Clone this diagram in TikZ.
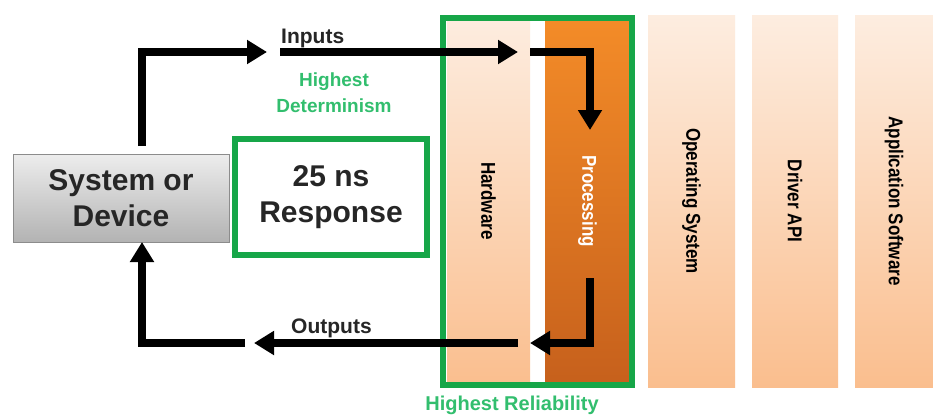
\documentclass[tikz,border=0pt]{standalone}
\usepackage{fontspec}
\setmainfont{Liberation Sans}
\usetikzlibrary{arrows.meta}
\definecolor{frameG}{RGB}{22,166,72}
\definecolor{textG}{RGB}{50,190,110}
\definecolor{peachT}{RGB}{253,237,224}
\definecolor{peachB}{RGB}{250,190,142}
\definecolor{orT}{RGB}{244,140,40}
\definecolor{orB}{RGB}{198,96,28}
\newcommand{\vlab}[1]{\rotatebox{-90}{\scalebox{0.85}[1]{\fontsize{20}{24}\selectfont\bfseries #1}}}
\begin{document}
\begin{tikzpicture}[x=1pt,y=-1pt,
  col/.style={rectangle, inner sep=0pt, top color=peachT, bottom color=peachB, draw=none},
  pcol/.style={rectangle, inner sep=0pt, top color=orT, bottom color=orB, draw=none, text=white},
  conn/.style={line width=7.5pt, -{Triangle[length=20pt,width=23pt]}},
  big/.style={font=\fontsize{30}{36}\selectfont\bfseries, align=center, text=black!85},
  lbl/.style={font=\fontsize{21}{24}\selectfont\bfseries, text=black!85},
  glbl/.style={font=\fontsize{19}{26}\selectfont\bfseries, text=textG, align=center}]
\useasboundingbox (0,0) rectangle (933,415);
\fill[white] (0,0) rectangle (933,415);
% columns
\node[col, minimum width=83, minimum height=372] (hw) at (488.5,201) {\vlab{Hardware}};
\node[pcol, minimum width=85, minimum height=372] (proc) at (587.5,201) {\vlab{Processing}};
\node[col, minimum width=87, minimum height=372] (os) at (691.5,201) {\vlab{Operating System}};
\node[col, minimum width=86, minimum height=372] (drv) at (795,201) {\vlab{Driver API}};
\node[col, minimum width=78, minimum height=372] (app) at (894,201) {\vlab{Application Software}};
% reliability frame
\node[rectangle, draw=frameG, line width=6.5pt, minimum width=189, minimum height=367, inner sep=0pt] (rel) at (537.5,201.5) {};
\node[glbl, font=\fontsize{20}{24}\selectfont\bfseries, anchor=base] (reltxt) at (512,410) {Highest Reliability};
% system box
\node[rectangle, top color=black!7, bottom color=black!30, draw=black!45, line width=1pt,
      minimum width=216, minimum height=88, inner sep=0pt, big] (sys) at (121,198) {System or\\Device};
% response box
\node[rectangle, fill=white, draw=frameG, line width=6.5pt, minimum width=192, minimum height=116,
      inner sep=0pt, big] (resp) at (331,197) {25 ns\\Response};
% labels
\node[lbl, anchor=base west, inner sep=0pt] (inl) at (281,43) {Inputs};
\node[lbl, anchor=base west, inner sep=0pt] (outl) at (291,333) {Outputs};
\node[glbl, anchor=base, inner sep=0pt] (det) at (334,112) {Highest\\Determinism};
% connector coordinates
\coordinate (a0) at (142,146);
\coordinate (a1) at (267,52);
\coordinate (b0) at (280,52);
\coordinate (b1) at (518,52);
\coordinate (c0) at (530,52);
\coordinate (c1) at (590,130);
\coordinate (d0) at (590,278);
\coordinate (d1) at (530,343);
\coordinate (e0) at (518,343);
\coordinate (e1) at (254,343);
\coordinate (f0) at (245,343);
\coordinate (f1) at (142,242);
\draw[conn] (a0) |- (a1);
\draw[conn] (b0) -- (b1);
\draw[conn] (c0) -| (c1);
\draw[conn] (d0) |- (d1);
\draw[conn] (e0) -- (e1);
\draw[conn] (f0) -| (f1);
\end{tikzpicture}
\end{document}
